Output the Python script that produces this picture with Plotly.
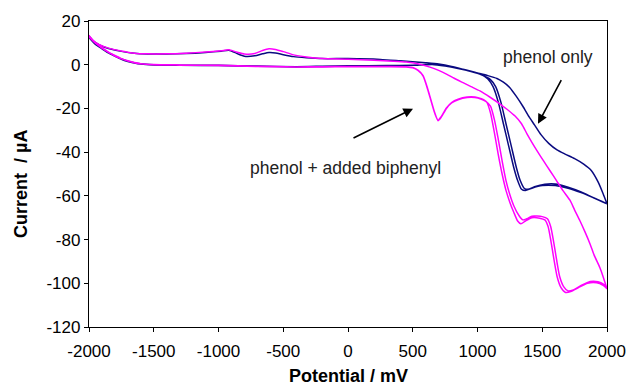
import plotly.graph_objects as go

# ---------------- data (potential in mV, current in µA) ----------------
navy_fwd1_v = [-2000, -1950, -1900, -1850, -1800, -1750, -1700, -1650, -1600, -1500, -1300, -1000, -700, -400, -200, 0, 300, 500, 650, 750, 850, 950, 1030,
               1080, 1120, 1160, 1200, 1240, 1280, 1310, 1340, 1370, 1420, 1500, 1600, 1700, 1800, 1900, 2000]
navy_fwd1_i = [12.8, 9.5, 7.5, 5.5, 4.0, 2.6, 1.6, 0.9, 0.4, 0.0, -0.2, -0.3, -0.6, -0.9, -0.7, -0.5, -0.4, -0.2, 0.2, -0.5, -1.6, -3.0, -4.5,
               -6.5, -10, -17, -27, -37, -47, -53, -57, -57.6, -56.5, -55.3, -55.3, -56.5, -58.5, -61, -63.6]

navy_fwd2_v = [-2000, -1950, -1900, -1850, -1800, -1750, -1700, -1650, -1600, -1500, -1300, -1000, -700, -400, -200, 0, 300, 500, 650, 750, 850, 950, 1030,
               1100, 1140, 1180, 1220, 1260, 1300, 1330, 1360, 1390, 1440, 1520, 1600, 1700, 1800, 1900, 2000]
navy_fwd2_i = [12.6, 9.3, 7.3, 5.4, 3.9, 2.5, 1.5, 0.8, 0.3, -0.1, -0.3, -0.4, -0.7, -1.0, -0.8, -0.6, -0.5, -0.3, 0.1, -0.6, -1.7, -3.1, -4.6,
               -6.8, -10, -17, -27, -37, -47, -53, -56.5, -57, -55.8, -54.7, -54.6, -56, -58.2, -61, -63.6]

navy_rev_v = [2000, 1970, 1930, 1880, 1820, 1750, 1680, 1614, 1550, 1490, 1440, 1400, 1350, 1300, 1250, 1200, 1150, 1080, 1000, 900, 800, 700, 600, 500,
              400, 250, 0, -200, -320, -420, -500, -560, -610, -660, -720, -800, -860, -920, -980, -1100, -1250, -1400, -1550, -1650, -1750, -1850,
              -1920, -1970, -2000]
navy_rev_i = [-63.6, -59, -53.5, -48.5, -45.5, -43, -41, -39, -36, -32, -27.5, -24, -19, -14.5, -10.5, -8, -6.3, -5, -3.8, -2.3, -0.8, 0.3, 0.9, 1.4,
              1.8, 2.4, 2.8, 2.8, 3.2, 3.7, 4.6, 5.4, 5.6, 5.0, 4.1, 3.9, 5.2, 6.6, 6.2, 5.6, 5.1, 4.9, 4.9, 5.2, 6.1, 7.4,
              9.0, 11, 13.2]

mag_fwd1_v = [-2000, -1950, -1900, -1850, -1800, -1750, -1700, -1650, -1600, -1500, -1300, -1000, -700, -400, -200, 0, 300, 450, 500, 540, 580, 610,
              640, 670, 695, 720, 760, 800, 850, 920, 980, 1030, 1070, 1100, 1130, 1160, 1190, 1220, 1250, 1280, 1310, 1335, 1370, 1420, 1480,
              1520, 1545, 1565, 1590, 1615, 1645, 1680, 1720, 1780, 1850, 1920, 1970, 2000]
mag_fwd1_i = [13.2, 10, 7.8, 5.8, 4.2, 2.8, 1.8, 1.0, 0.5, 0.1, -0.1, -0.3, -0.7, -1.0, -0.9, -0.8, -0.8, -0.9, -1.3, -2.5, -5, -10,
              -16, -22, -25.6, -24, -20, -17.5, -16, -15, -15, -15.8, -17, -22, -31, -41, -50, -57.5, -63, -67.5, -71.5, -72.8, -71.5, -70, -70.2,
              -71, -74, -80, -89, -97, -102, -104.2, -103.8, -102, -100, -99.8, -101, -102.5]

mag_fwd2_v = [-2000, -1950, -1900, -1850, -1800, -1750, -1700, -1650, -1600, -1500, -1300, -1000, -700, -400, -200, 0, 300, 450, 500, 540, 580, 610,
              640, 670, 695, 720, 760, 800, 850, 920, 980, 1030, 1060, 1100, 1130, 1160, 1190, 1220, 1250, 1280, 1320, 1350, 1380, 1420, 1500,
              1540, 1565, 1585, 1610, 1635, 1665, 1700, 1740, 1800, 1870, 1930, 1975, 2000]
mag_fwd2_i = [13.0, 9.8, 7.6, 5.6, 4.0, 2.7, 1.7, 0.9, 0.4, 0.0, -0.2, -0.4, -0.8, -1.1, -1.0, -0.9, -0.9, -1.0, -1.4, -2.6, -5.2, -10.3,
              -16.3, -22.2, -25.4, -23.8, -19.8, -17.3, -15.8, -14.8, -14.8, -15.6, -16.5, -19, -25, -34, -44, -53, -59.5, -64.5, -69, -71, -70.5, -69.3, -69.5,
              -70.5, -74, -80, -89, -97, -101.5, -103.5, -103, -101, -99.2, -99.3, -100.5, -102]

mag_rev_v = [2000, 1970, 1946, 1900, 1869, 1830, 1791, 1750, 1714, 1660, 1610, 1560, 1510, 1459, 1420, 1382, 1340, 1290, 1230, 1174, 1100, 1019,
             950, 888, 820, 764, 700, 633, 556, 450, 350, 200, 0, -200, -320, -420, -500, -560, -610, -660, -720, -800, -860, -920, -980,
             -1100, -1250, -1400, -1550, -1650, -1750, -1850, -1920, -1970, -2000]
mag_rev_i = [-102.5, -97, -93, -87, -82, -76.5, -71.4, -66.5, -62, -57.6, -53, -48.5, -44, -39.3, -35.5, -31.6, -27, -23.5, -20.5, -18, -15, -12,
             -10, -8.2, -6.2, -4.4, -2.6, -1.1, 0.2, 1.2, 1.6, 2.0, 2.5, 2.8, 3.5, 4.5, 6.0, 7.0, 7.3, 6.5, 5.1, 4.9, 5.8, 6.8, 6.4,
             5.8, 5.3, 5.0, 5.0, 5.3, 6.3, 7.6, 9.2, 11.2, 13.4]

x_ticks = [-2000, -1500, -1000, -500, 0, 500, 1000, 1500, 2000]
x_tick_text = ["-2000", "-1500", "-1000", "-500", "0", "500", "1000", "1500", "2000"]
y_ticks = [20, 0, -20, -40, -60, -80, -100, -120]
y_tick_text = ["20", "0", "-20", "-40", "-60", "-80", "-100", "-120"]

NAVY = "#0a0a80"
MAGENTA = "#ff00ff"
FONT = "Liberation Sans, Arial, sans-serif"

fig = go.Figure()

navy_v = navy_fwd1_v + navy_rev_v + navy_fwd2_v + navy_rev_v
navy_i = navy_fwd1_i + navy_rev_i + navy_fwd2_i + navy_rev_i
mag_v = mag_fwd1_v + mag_rev_v + mag_fwd2_v + mag_rev_v
mag_i = mag_fwd1_i + mag_rev_i + mag_fwd2_i + mag_rev_i

fig.add_trace(go.Scatter(x=navy_v, y=navy_i, mode="lines",
                         line=dict(color=NAVY, width=1.5, shape="spline", smoothing=0.6),
                         showlegend=False, hoverinfo="skip"))
fig.add_trace(go.Scatter(x=mag_v, y=mag_i, mode="lines",
                         line=dict(color=MAGENTA, width=1.5, shape="spline", smoothing=0.6),
                         showlegend=False, hoverinfo="skip"))

fig.update_layout(
    width=628, height=387,
    margin=dict(l=89, r=21, t=21, b=60),
    paper_bgcolor="white", plot_bgcolor="white",
    font=dict(family=FONT, size=17, color="black"),
    showlegend=False,
)
fig.update_xaxes(range=[-2000, 2000], tickvals=x_ticks, ticktext=x_tick_text, ticks="outside", ticklen=4, tickwidth=1,
                 tickcolor="black", showline=True, linecolor="black", linewidth=1.3, mirror=True,
                 showgrid=False, zeroline=False, ticklabelstandoff=4, automargin=False,
                 tickfont=dict(family=FONT, size=17, color="black"))
fig.update_yaxes(range=[-120, 20], tickvals=y_ticks, ticktext=y_tick_text, ticks="outside", ticklen=4, tickwidth=1,
                 tickcolor="black", showline=True, linecolor="black", linewidth=1.3, mirror=True,
                 showgrid=False, zeroline=False, automargin=False,
                 tickfont=dict(family=FONT, size=17, color="black"))

# axis titles
fig.add_annotation(text="<b>Potential / mV</b>", xref="paper", yref="paper", x=0.5, y=0,
                   yshift=-49, xanchor="center", yanchor="middle", showarrow=False,
                   font=dict(family=FONT, size=18, color="black"))
fig.add_annotation(text="<b>Current  / µA</b>", xref="paper", yref="paper", x=0, y=0.5,
                   xshift=-68, yshift=-10, xanchor="center", yanchor="middle", showarrow=False, textangle=-90,
                   font=dict(family=FONT, size=18, color="black"))

# labels with arrows
fig.add_annotation(text="phenol only", x=1544, y=3.7, xref="x", yref="y", showarrow=False,
                   font=dict(family=FONT, size=17.5, color="#222222"))
fig.add_annotation(text="phenol + added biphenyl", x=-23, y=-47.1, xref="x", yref="y", showarrow=False,
                   font=dict(family=FONT, size=17.5, color="#222222"))
fig.add_annotation(text="", x=1467, y=-27, ax=1653, ay=-6.4, xref="x", yref="y", axref="x", ayref="y",
                   showarrow=True, arrowhead=2, arrowsize=1.2, arrowwidth=1.6, arrowcolor="black")
fig.add_annotation(text="", x=502, y=-20.1, ax=31, ay=-33.9, xref="x", yref="y", axref="x", ayref="y",
                   showarrow=True, arrowhead=2, arrowsize=1.2, arrowwidth=1.6, arrowcolor="black")

fig.write_html("out.html")
